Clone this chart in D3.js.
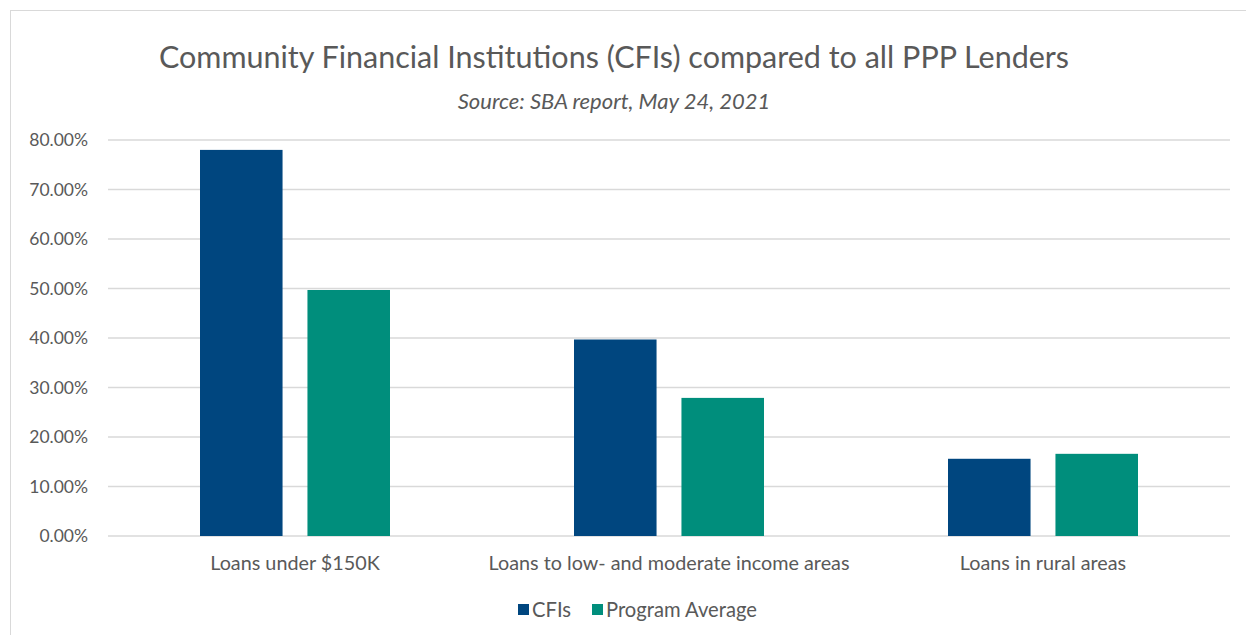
<!DOCTYPE html>
<meta charset="utf-8">
<style>
    body { margin: 0; background: #fff; }
    svg { font-family: Lato, "Open Sans", sans-serif; }
    .axis text { fill: #595959; font-family: Lato, "Open Sans", sans-serif; }
    .grid line { stroke: #d9d9d9; stroke-width: 1.3; }
</style>
<body></body>
<script src="https://d3js.org/d3.v7.min.js"></script>
<script>
    // data
    const categories = ["Loans under $150K", "Loans to low- and moderate income areas", "Loans in rural areas"];
    const seriesNames = ["CFIs", "Program Average"];
    const cfis = [0.78, 0.397, 0.156];
    const programAvg = [0.497, 0.279, 0.166];
    const yTicks = [0, 0.1, 0.2, 0.3, 0.4, 0.5, 0.6, 0.7, 0.8];
    const colors = ["#00467f", "#008e7c"];

    const W = 1246, H = 635;
    const margin = {top: 140, right: 16, bottom: 99, left: 108};
    const width = W - margin.left - margin.right,
        height = H - margin.top - margin.bottom;

    const svg = d3.select("body").append("svg")
        .attr("width", W).attr("height", H);

    // outer chart frame
    svg.append("rect")
        .attr("x", 10.5).attr("y", 10.5)
        .attr("width", W + 20).attr("height", H + 20)
        .attr("fill", "none").attr("stroke", "#d9d9d9");

    svg.append("text")
        .attr("x", 614).attr("y", 68)
        .attr("text-anchor", "middle")
        .attr("fill", "#595959")
        .style("font-size", "30.5px")
        .text("Community Financial Institutions (CFIs) compared to all PPP Lenders");

    svg.append("text")
        .attr("x", 614).attr("y", 109)
        .attr("text-anchor", "middle")
        .attr("fill", "#595959")
        .style("font-size", "22px")
        .style("font-style", "italic")
        .text("Source: SBA report, May 24, 2021");

    const g = svg.append("g")
        .attr("transform", "translate(" + margin.left + "," + margin.top + ")");

    const x0 = d3.scaleBand().domain(categories).range([0, width]);
    const x1 = d3.scaleBand().domain(seriesNames)
        .range([x0.bandwidth() / 2 - 95, x0.bandwidth() / 2 + 95])
        .paddingInner(0.2318);
    const y = d3.scaleLinear().domain([0, 0.8]).range([height, 0]);

    // gridlines
    g.append("g").attr("class", "grid")
        .selectAll("line").data(yTicks).enter()
        .append("line")
        .attr("x1", 0).attr("x2", width)
        .attr("y1", d => y(d)).attr("y2", d => y(d));

    // y axis labels
    const yAxis = g.append("g").attr("class", "axis")
        .call(d3.axisLeft(y).tickValues(yTicks).tickFormat(d3.format(".2%")).tickSize(0).tickPadding(20));
    yAxis.select(".domain").remove();
    yAxis.selectAll("text").style("font-size", "17.5px");

    const rows = categories.map((c, i) => ({cat: c, vals: [cfis[i], programAvg[i]]}));

    g.selectAll(".grp").data(rows).enter()
        .append("g")
        .attr("transform", d => "translate(" + x0(d.cat) + ",0)")
        .selectAll("rect")
        .data(d => d.vals.map((v, j) => ({s: seriesNames[j], v: v, j: j})))
        .enter().append("rect")
        .attr("x", d => x1(d.s))
        .attr("width", x1.bandwidth())
        .attr("y", d => y(d.v))
        .attr("height", d => height - y(d.v))
        .attr("fill", d => colors[d.j]);

    // x axis labels
    const xAxis = g.append("g").attr("class", "axis")
        .attr("transform", "translate(0," + height + ")")
        .call(d3.axisBottom(x0).tickSize(0).tickPadding(20));
    xAxis.select(".domain").remove();
    xAxis.selectAll("text").style("font-size", "19.8px");

    // legend
    const legend = svg.append("g").attr("transform", "translate(518,610)");
    const lx = [0, 74];
    seriesNames.forEach((s, i) => {
        legend.append("rect")
            .attr("x", lx[i]).attr("y", -6)
            .attr("width", 11).attr("height", 11)
            .attr("fill", colors[i]);
        legend.append("text")
            .attr("x", lx[i] + 14).attr("y", 7)
            .attr("fill", "#595959")
            .style("font-size", "20.2px")
            .text(s);
    });
</script>
